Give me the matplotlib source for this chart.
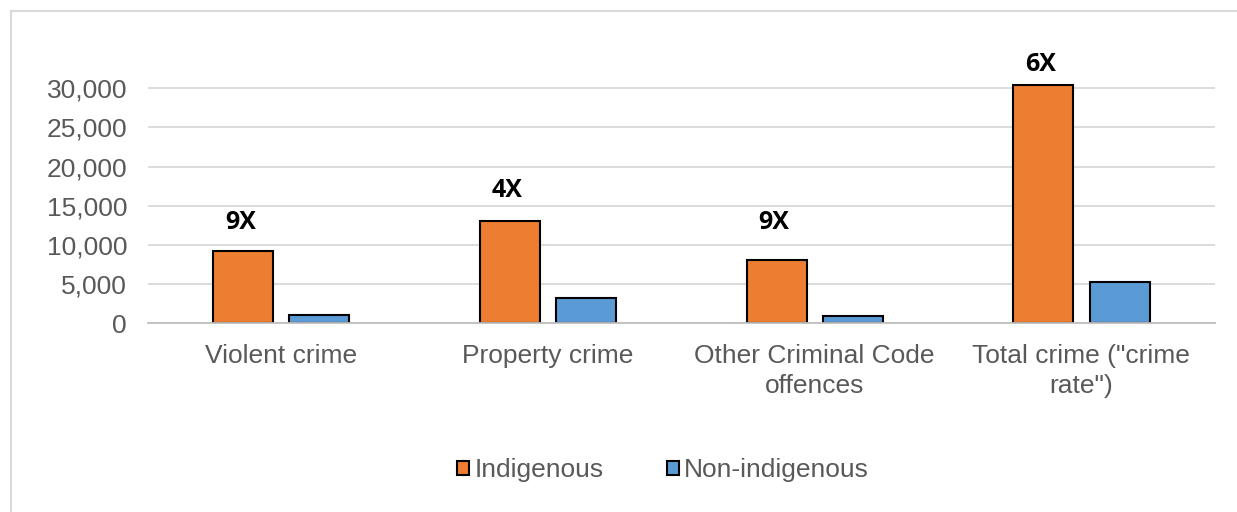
import numpy as np
import matplotlib.pyplot as plt
from matplotlib.lines import Line2D

plt.rcParams['font.family'] = ['Liberation Sans', 'DejaVu Sans']

categories = ['Violent crime', 'Property crime', 'Other Criminal Code\noffences',
              'Total crime ("crime\nrate")']
indigenous = [9200, 13000, 8050, 30400]
non_indigenous = [1000, 3200, 900, 5200]
ratio_labels = ['9X', '4X', '9X', '6X']
label_y = [12900, 17000, 12900, 33000]

orange = '#ED7D31'
blue = '#5B9BD5'
grey = '#595959'

fig = plt.figure(figsize=(12.37, 5.12), dpi=100)
ax = fig.add_axes([0.1196, 0.369, 0.8624, 0.535])

x = np.arange(len(categories))
w = 0.225
off = 0.143
ax.bar(x - off, indigenous, w, color=orange, edgecolor='black', linewidth=1.5,
       label='Indigenous', zorder=3)
ax.bar(x + off, non_indigenous, w, color=blue, edgecolor='black', linewidth=1.5,
       label='Non-indigenous', zorder=3)

for i, t in enumerate(ratio_labels):
    ax.text(x[i] - off - 0.01, label_y[i], t, ha='center', va='center',
            fontsize=18, fontweight='bold', color='black',
            family=['Open Sans', 'DejaVu Sans'])

ax.set_xlim(-0.5, len(categories) - 0.5)
ax.set_ylim(0, 35000)
ax.set_yticks(range(0, 30001, 5000))
ax.set_yticklabels([f'{v:,}' for v in range(0, 30001, 5000)])
ax.set_xticks(x)
ax.set_xticklabels(categories, linespacing=1.3)
ax.tick_params(axis='both', length=0, labelsize=19, labelcolor=grey)
ax.tick_params(axis='x', pad=15)
ax.tick_params(axis='y', pad=15)
ax.grid(axis='y', color='#D9D9D9', linewidth=1.3, zorder=0)
for s in ['left', 'right', 'top']:
    ax.spines[s].set_visible(False)
ax.spines['bottom'].set_color('#BFBFBF')
ax.spines['bottom'].set_linewidth(1.3)
ax.spines['bottom'].set_zorder(4)

leg = fig.legend(loc='center', bbox_to_anchor=(0.536, 0.082), ncol=2, frameon=False,
                 fontsize=19, handlelength=0.45, handleheight=0.45,
                 handletextpad=0.2, columnspacing=2.4)
for t in leg.get_texts():
    t.set_color(grey)

# chart border (top and left edges visible)
fig.add_artist(Line2D([10.5 / 1237, 1.0], [1 - 10.5 / 512] * 2, color='#D9D9D9',
                      linewidth=1.5, transform=fig.transFigure))
fig.add_artist(Line2D([10.5 / 1237] * 2, [0, 1 - 10.5 / 512], color='#D9D9D9',
                      linewidth=1.5, transform=fig.transFigure))

fig.savefig('out.png', dpi=100)
